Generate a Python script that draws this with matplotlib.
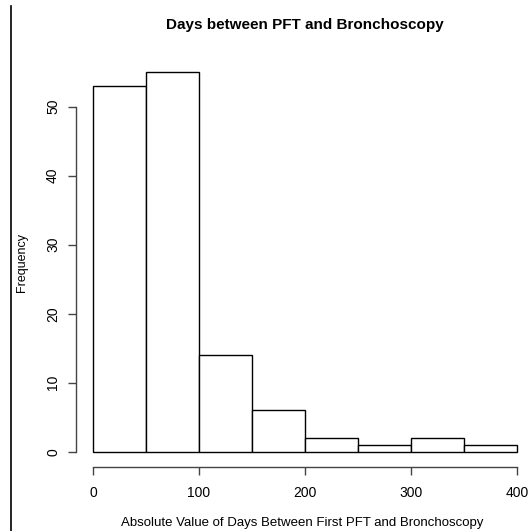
import matplotlib
matplotlib.use('Agg')
import matplotlib.pyplot as plt
from matplotlib.lines import Line2D

bin_edges = [0, 50, 100, 150, 200, 250, 300, 350, 400]
counts = [53, 55, 14, 6, 2, 1, 2, 1]
x_ticks = [0, 100, 200, 300, 400]
y_ticks = [0, 10, 20, 30, 40, 50]

plt.rcParams['font.family'] = ['Liberation Sans', 'DejaVu Sans']

fig = plt.figure(figsize=(5.28, 5.31), dpi=100)
ax = fig.add_axes([76 / 528, 1 - 467 / 531, (534 - 76) / 528, (467 - 57) / 531])

widths = [b - a for a, b in zip(bin_edges[:-1], bin_edges[1:])]
ax.bar(bin_edges[:-1], counts, width=widths, align='edge',
       facecolor='white', edgecolor='black', linewidth=1)

ax.set_xlim(-16, 416)
ax.set_ylim(-2.2, 57.2)

for s in ['top', 'right']:
    ax.spines[s].set_visible(False)
ax.spines['left'].set_bounds(0, 50)
ax.spines['bottom'].set_bounds(0, 400)
for s in ['left', 'bottom']:
    ax.spines[s].set_color('#444444')
    ax.spines[s].set_linewidth(1)

ax.set_xticks(x_ticks)
ax.set_yticks(y_ticks)
ax.tick_params(axis='both', direction='out', length=5.5, width=1, color='#444444',
               labelsize=10)
ax.tick_params(axis='x', pad=8)
ax.tick_params(axis='y', pad=6)
for lab in ax.get_yticklabels():
    lab.set_rotation(90)
    lab.set_va('center')

# title placed in figure pixels so it doesn't depend on axes auto-positioning
fig.text(305 / 528, 1 - 25 / 531, 'Days between PFT and Bronchoscopy',
         fontsize=11, fontweight='bold', ha='center', va='center')
ax.set_xlabel('Absolute Value of Days Between First PFT and Bronchoscopy', fontsize=9.5)
ax.set_ylabel('Frequency', fontsize=9)
ax.xaxis.label.set_va('center')
ax.yaxis.label.set_va('center')
ax.xaxis.set_label_coords((302 - 76) / 458, -(523 - 467) / 410)
ax.yaxis.set_label_coords(-(76 - 22) / 458, (467 - 262) / 410)

fig.add_artist(Line2D([11 / 528, 11 / 528], [0, 1 - 6 / 531], color='black', lw=1.2))

fig.savefig('out.png', dpi=100)
